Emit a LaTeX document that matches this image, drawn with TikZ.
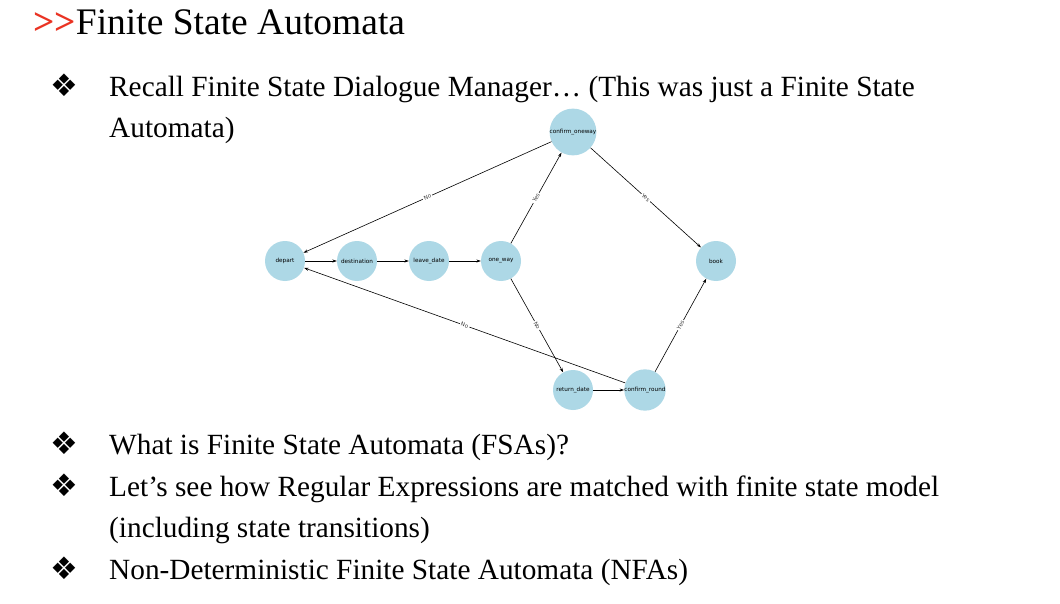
\documentclass[tikz,border=0pt]{standalone}
\usepackage{fontspec}
\setmainfont{Liberation Serif}
\newfontfamily\dv{DejaVu Sans}
\usetikzlibrary{arrows.meta}
\definecolor{nodeblue}{RGB}{173,216,230}
\definecolor{titlered}{RGB}{234,51,35}
\begin{document}
\begin{tikzpicture}[x=1pt,y=-1pt,
  st/.style={circle,fill=nodeblue,minimum size=40pt,inner sep=0pt,font=\dv\fontsize{5.7}{6.5}\selectfont},
  edge/.style={-{Stealth[length=4.5pt,width=3pt]},line width=0.6pt},
  elab/.style={fill=white,inner sep=1.2pt,text=black!75,font=\dv\fontsize{5.6}{6}\selectfont,sloped},
  txt/.style={anchor=base west,inner sep=0pt,font=\fontsize{29.3}{34}\selectfont},
  bul/.style={anchor=base,inner sep=0pt,font=\dv\fontsize{31}{34}\selectfont}]
\useasboundingbox[fill=white] (0,0) rectangle (1060,604);
\node[anchor=base west,inner sep=0pt,font=\fontsize{37.5}{42}\selectfont] (title) at (33,35) {\textcolor{titlered}{\bfseries >\kern0pt>}\kern0ptFinite State Automata};

\node[bul] (b1) at (64,97) {❖};
\node[txt] (t1) at (109,97) {Recall Finite State Dialogue Manager… (This was just a Finite State};
\node[txt] (t1b) at (109,138) {Automata)};
\node[bul] (b2) at (64,454) {❖};
\node[txt] (t2) at (109,454) {What is Finite State Automata (FSAs)?};
\node[bul] (b3) at (64,496) {❖};
\node[txt] (t3) at (109,496) {Let’s see how Regular Expressions are matched with finite state model};
\node[txt] (t3b) at (109,537) {(including state transitions)};
\node[bul] (b4) at (64,579) {❖};
\node[txt] (t4) at (109,579) {Non-Deterministic Finite State Automata (NFAs)};

\node[st] (dep) at (285,261) {depart};
\node[st] (dst) at (357,261) {destination};
\node[st] (lvd) at (429,261) {leave\_date};
\node[st] (onw) at (501,261) {one\_way};
\node[st] (cow) at (573,132) {confirm\_oneway};
\node[st] (bok) at (716,261) {book};
\node[st] (ret) at (573,390) {return\_date};
\node[st] (cro) at (645,390) {confirm\_round};

\draw[edge] (dep) -- (dst);
\draw[edge] (dst) -- (lvd);
\draw[edge] (lvd) -- (onw);
\draw[edge] (onw) -- node[elab]{Yes} (cow);
\draw[edge] (onw) -- node[elab]{No} (ret);
\draw[edge] (cow) -- node[elab]{No} (dep);
\draw[edge] (cow) -- node[elab]{Yes} (bok);
\draw[edge] (ret) -- (cro);
\draw[edge] (cro) -- node[elab]{Yes} (bok);
\draw[edge] (cro) -- node[elab]{No} (dep);
\end{tikzpicture}
\end{document}
